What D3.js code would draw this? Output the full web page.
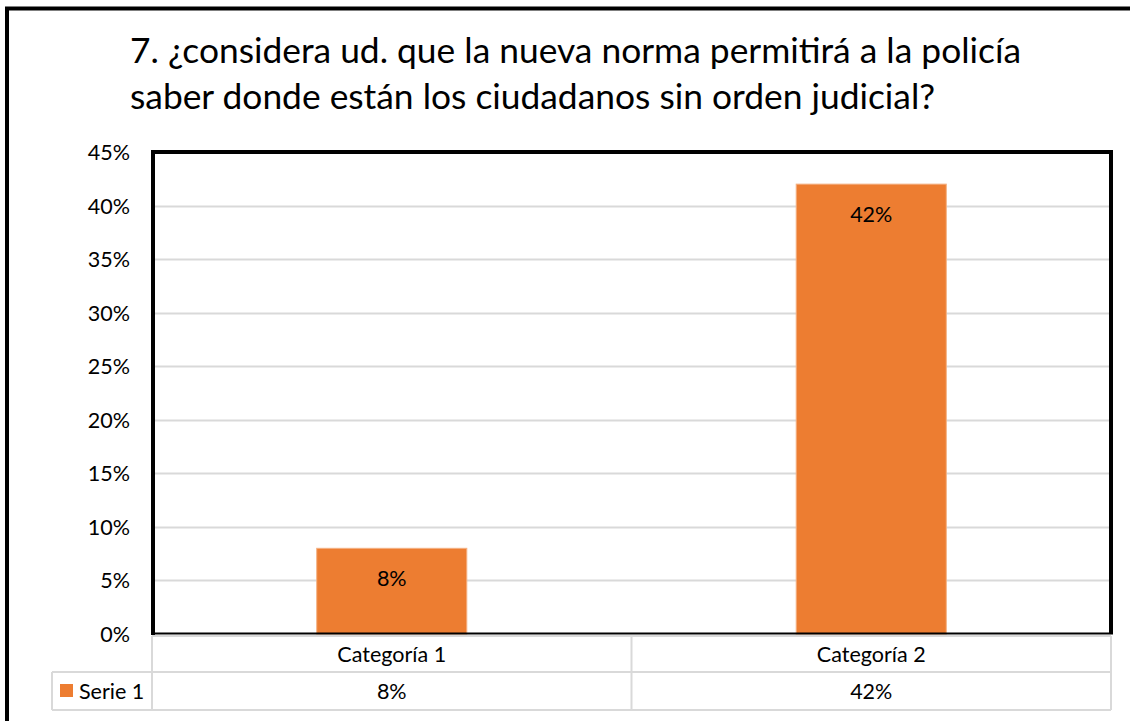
<!DOCTYPE html>
<html>
<head>
<meta charset="utf-8">
<script src="https://cdn.jsdelivr.net/npm/d3@7"></script>
<style>
  html, body { margin: 0; padding: 0; background: #fff; }
  svg { display: block; }
  text { font-family: Lato, "Open Sans", sans-serif; fill: #000; }
</style>
</head>
<body>
<svg id="chart" width="1130" height="721"></svg>
<script>
// ---- data ----
const titleLines = [
  "7. ¿considera ud. que la nueva norma permitirá a la policía",
  "saber donde están los ciudadanos sin orden judicial?"
];
const categories = ["Categoría 1", "Categoría 2"];
const seriesName = "Serie 1";
const seriesValues = [8, 42];
const yTicks = [0, 5, 10, 15, 20, 25, 30, 35, 40, 45];

// ---- layout ----
const W = 1130, H = 721;
const plot = { left: 153, right: 1111, top: 152, bottom: 634 };
const table = { left: 52, row1Top: 636, row2Top: 672, bottom: 710 };
const orange = "#ED7D31";
const gridGray = "#d9d9d9";

const svg = d3.select("#chart");

// measure label font size so "Categoría 1" is ~109px wide (as in reference)
const probe = svg.append("text").style("font-size", "20px").text(categories[0]);
const labelSize = 20 * 109 / probe.node().getComputedTextLength();
probe.remove();
const LS = labelSize + "px";

// outer chart border (only top and left visible)
svg.append("rect")
  .attr("x", 7).attr("y", 8.5)
  .attr("width", W + 20).attr("height", H + 20)
  .attr("fill", "#fff").attr("stroke", "#000").attr("stroke-width", 4);

// title
const title = svg.append("g");
const titleTexts = title.selectAll("text").data(titleLines).join("text")
  .attr("x", 130)
  .attr("y", (d, i) => 63 + i * 46)
  .style("font-size", "36px")
  .text(d => d);
const len0 = titleTexts.nodes()[0].getComputedTextLength();
const titleSize = 36 * 891 / len0;
titleTexts.style("font-size", titleSize + "px");

// scales
const y = d3.scaleLinear().domain([0, 45]).range([plot.bottom, plot.top]);
const xCols = d3.scaleBand().domain(categories).range([plot.left - 1, plot.right]).padding(0);
const xBars = d3.scaleBand().domain(categories).range([plot.left - 1, plot.right])
  .paddingInner(0.687).paddingOuter(0.687 / 2);

// gridlines
svg.append("g")
  .selectAll("line").data(yTicks.filter(t => t > 0 && t < 45)).join("line")
  .attr("x1", plot.left).attr("x2", plot.right)
  .attr("y1", d => Math.round(y(d)) + 0.5).attr("y2", d => Math.round(y(d)) + 0.5)
  .attr("stroke", gridGray).attr("stroke-width", 2);

// y axis labels
const yAxis = d3.axisLeft(y).tickValues(yTicks).tickFormat(d => d + "%").tickSize(0).tickPadding(0);
const gy = svg.append("g").attr("transform", `translate(${plot.left - 23},0)`).call(yAxis);
gy.select(".domain").remove();
gy.selectAll("text").attr("font-family", null).attr("font-size", null)
  .style("font-size", LS).attr("dy", "0.35em");

// bars
svg.append("g").selectAll("rect").data(seriesValues).join("rect")
  .attr("x", (d, i) => xBars(categories[i]))
  .attr("width", xBars.bandwidth())
  .attr("y", d => y(d))
  .attr("height", d => plot.bottom - y(d))
  .attr("fill", orange)
  .attr("stroke", "#f4b183").attr("stroke-width", 1);

// data labels
svg.append("g").selectAll("text").data(seriesValues).join("text")
  .attr("x", (d, i) => xBars(categories[i]) + xBars.bandwidth() / 2)
  .attr("y", d => y(d) + 30)
  .attr("dy", "0.35em")
  .attr("text-anchor", "middle")
  .style("font-size", LS)
  .text(d => d + "%");

// plot border
svg.append("path")
  .attr("d", `M${plot.left},${plot.bottom + 1} V${plot.top} H${plot.right} V${plot.bottom}`)
  .attr("fill", "none").attr("stroke", "#000").attr("stroke-width", 4);
svg.append("line")
  .attr("x1", plot.left - 2).attr("x2", plot.right + 2)
  .attr("y1", plot.bottom - 0.5).attr("y2", plot.bottom - 0.5)
  .attr("stroke", "#000").attr("stroke-width", 2);

// data table
const tg = svg.append("g");
const tableLines = [
  // horizontal
  [plot.left - 1, table.row1Top, plot.right, table.row1Top],
  [table.left, table.row2Top, plot.right, table.row2Top],
  [table.left, table.bottom, plot.right, table.bottom],
  // vertical
  [table.left, table.row2Top, table.left, table.bottom],
  [plot.left - 1, table.row1Top, plot.left - 1, table.bottom],
  [xCols(categories[1]), table.row1Top, xCols(categories[1]), table.bottom],
  [plot.right, table.row1Top, plot.right, table.bottom]
];
tg.selectAll("line").data(tableLines).join("line")
  .attr("x1", d => d[0]).attr("y1", d => d[1])
  .attr("x2", d => d[2]).attr("y2", d => d[3])
  .attr("stroke", gridGray).attr("stroke-width", 2);

tg.selectAll("text.cat").data(categories).join("text").attr("class", "cat")
  .attr("x", d => xCols(d) + xCols.bandwidth() / 2)
  .attr("y", (table.row1Top + table.row2Top) / 2)
  .attr("dy", "0.35em").attr("text-anchor", "middle")
  .style("font-size", LS)
  .text(d => d);

tg.selectAll("text.val").data(seriesValues).join("text").attr("class", "val")
  .attr("x", (d, i) => xCols(categories[i]) + xCols.bandwidth() / 2)
  .attr("y", (table.row2Top + table.bottom) / 2)
  .attr("dy", "0.35em").attr("text-anchor", "middle")
  .style("font-size", LS)
  .text(d => d + "%");

// legend key in table
tg.append("rect")
  .attr("x", 60).attr("y", 684).attr("width", 13).attr("height", 13)
  .attr("fill", orange);
tg.append("text")
  .attr("x", 79).attr("y", (table.row2Top + table.bottom) / 2)
  .attr("dy", "0.35em")
  .style("font-size", LS)
  .text(seriesName);
</script>
</body>
</html>
